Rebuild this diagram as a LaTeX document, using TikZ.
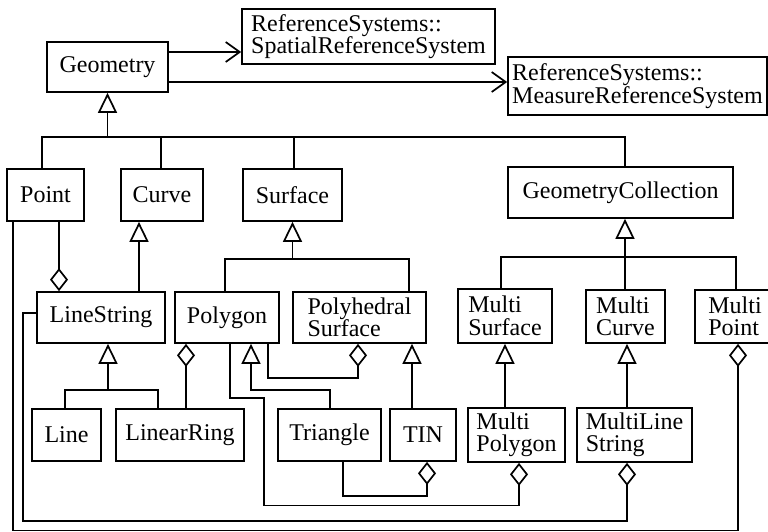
\documentclass[tikz,border=0pt]{standalone}
\usepackage{fontspec}
\setmainfont{Liberation Serif}
\usetikzlibrary{arrows.meta}
\begin{document}
\begin{tikzpicture}[x=1pt,y=-1pt,
  cls/.style={draw, line width=1.7pt, inner sep=0pt, align=left,
    font=\fontsize{24pt}{22.5pt}\selectfont},
  link/.style={line width=1.7pt},
  inh/.style={link, -{Triangle[open, length=20pt, width=19pt]}},
  agg/.style={link, -{Diamond[open, length=23pt, width=18pt]}},
  nav/.style={link, -{Straight Barb[length=14pt, width=20pt]}}]
\useasboundingbox (0,0) rectangle (768,532);

% classes
\node[cls, minimum width=121pt, minimum height=50pt] (geom) at (107.5,67) {Geometry};
\node[cls, minimum width=253pt, minimum height=55pt] (srs) at (368.5,36.5) {ReferenceSystems::\\SpatialReferenceSystem};
\node[cls, minimum width=259pt, minimum height=58pt] (mrs) at (637.5,86) {ReferenceSystems::\\MeasureReferenceSystem};
\node[cls, minimum width=77pt, minimum height=52pt] (point) at (45.5,195) {Point};
\node[cls, minimum width=82pt, minimum height=52pt] (curve) at (162,195) {Curve};
\node[cls, minimum width=99pt, minimum height=52pt] (surface) at (292.5,195) {Surface};
\node[cls, minimum width=225pt, minimum height=51pt] (gc) at (620.5,192.5) {GeometryCollection};
\node[cls, minimum width=128pt, minimum height=51pt] (ls) at (101,317.5) {LineString};
\node[cls, minimum width=104pt, minimum height=51pt] (polygon) at (227,317.5) {Polygon};
\node[cls, minimum width=133pt, minimum height=51pt] (polysurf) at (359.5,317.5) {Polyhedral\\Surface};
\node[cls, minimum width=94pt, minimum height=54pt] (msurf) at (505,316) {Multi\\Surface};
\node[cls, minimum width=79pt, minimum height=53pt] (mcurve) at (625.5,316.5) {Multi\\Curve};
\node[cls, minimum width=80pt, minimum height=53pt] (mpoint) at (735,316.5) {Multi\\Point};
\node[cls, minimum width=69pt, minimum height=52pt] (line) at (66.5,435) {Line};
\node[cls, minimum width=128pt, minimum height=52pt] (lring) at (180,435) {LinearRing};
\node[cls, minimum width=103pt, minimum height=52pt] (tri) at (329.5,435) {Triangle};
\node[cls, minimum width=66pt, minimum height=52pt] (tin) at (423,435) {TIN};
\node[cls, minimum width=97pt, minimum height=54pt] (mpoly) at (516.5,435) {Multi\\Polygon};
\node[cls, minimum width=115pt, minimum height=54pt] (mls) at (634.5,435) {MultiLine\\String};

% Geometry associations
\coordinate (g1) at ([yshift=15pt]geom.east);
\coordinate (g2) at ([yshift=-15pt]geom.east);
\draw[nav] (g1) -- (g1 -| srs.west);
\draw[nav] (g2) -- (g2 -| mrs.west);

% Geometry generalization
\coordinate (gJ) at (107.5,137);
\coordinate (gL) at (42,137);
\coordinate (gC) at (161,137);
\coordinate (gS) at (294,137);
\coordinate (gR) at (625,137);
\draw[inh] (gJ) -- (geom.south);
\draw[link] (gL |- point.north) -- (gL) -- (gR) -- (gR |- gc.north);
\draw[link] (gC |- curve.north) -- (gC);
\draw[link] (gS |- surface.north) -- (gS);

% Point - LineString aggregation
\coordinate (xA) at (59,0);
\draw[agg] (point.south -| xA) -- (ls.north -| xA);

% Curve generalization
\coordinate (xB) at (139,0);
\draw[inh] (ls.north -| xB) -- (curve.south -| xB);

% Surface generalization
\coordinate (sJ) at (292.5,259);
\coordinate (sL) at (225,259);
\coordinate (sR) at (409,259);
\draw[inh] (sJ) -- (surface.south);
\draw[link] (sL |- polygon.north) -- (sL) -- (sR) -- (sR |- polysurf.north);

% GeometryCollection generalization
\coordinate (cJ) at (625,257);
\coordinate (cL) at (501,257);
\coordinate (cR) at (736,257);
\draw[inh] (mcurve.north -| cJ) -- (cJ |- gc.south);
\draw[link] (cL |- msurf.north) -- (cL) -- (cR) -- (cR |- mpoint.north);

% LineString generalization
\coordinate (lJ) at (108,390);
\coordinate (lL) at (65,390);
\coordinate (lR) at (158,390);
\draw[inh] (lJ) -- (lJ |- ls.south);
\draw[link] (lL |- line.north) -- (lL) -- (lR) -- (lR |- lring.north);

% LinearRing - Polygon aggregation
\coordinate (xF) at (186,0);
\draw[agg] (lring.north -| xF) -- (polygon.south -| xF);

% Triangle generalization
\coordinate (tA) at (330,390);
\coordinate (tB) at (251,390);
\draw[inh] (tA |- tri.north) -- (tA) -- (tB) -- (tB |- polygon.south);

% Polygon - PolyhedralSurface aggregation
\coordinate (hA) at (268,378);
\coordinate (hB) at (358,378);
\draw[agg] (hA |- polygon.south) -- (hA) -- (hB) -- (hB |- polysurf.south);

% TIN generalization
\coordinate (xI) at (412,0);
\draw[inh] (tin.north -| xI) -- (polysurf.south -| xI);

% Triangle - TIN aggregation
\coordinate (jA) at (343,496);
\coordinate (jB) at (427,496);
\draw[agg] (jA |- tri.south) -- (jA) -- (jB) -- (jB |- tin.south);

% Polygon - MultiPolygon aggregation
\coordinate (kA) at (230,398);
\coordinate (kB) at (264,398);
\coordinate (kC) at (264,505.5);
\coordinate (kD) at (519,505.5);
\draw[agg] (kA |- polygon.south) -- (kA) -- (kB) -- (kC) -- (kD) -- (kD |- mpoly.south);

% MultiPolygon and MultiLineString generalizations
\coordinate (xL) at (505,0);
\draw[inh] (mpoly.north -| xL) -- (msurf.south -| xL);
\coordinate (xM) at (627,0);
\draw[inh] (mls.north -| xM) -- (mcurve.south -| xM);

% LineString - MultiLineString aggregation
\coordinate (nA) at (23,313);
\coordinate (nB) at (23,521);
\coordinate (nC) at (627,521);
\draw[agg] (nA -| ls.west) -- (nA) -- (nB) -- (nC) -- (nC |- mls.south);

% Point - MultiPoint aggregation
\coordinate (oA) at (13,530.5);
\coordinate (oB) at (738,530.5);
\draw[agg] (oA |- point.south) -- (oA) -- (oB) -- (oB |- mpoint.south);
\end{tikzpicture}
\end{document}
